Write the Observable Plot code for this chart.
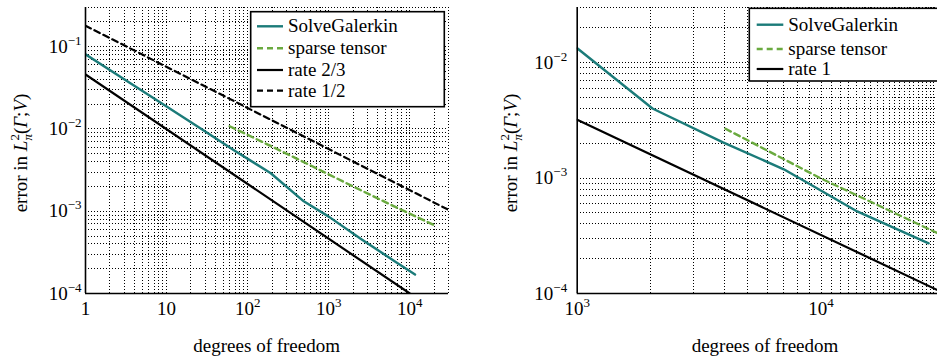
<!DOCTYPE html>
<html>
<head>
<meta charset="utf-8">
<script src="https://cdn.jsdelivr.net/npm/d3@7"></script>
<script src="https://cdn.jsdelivr.net/npm/@observablehq/plot@0.6"></script>
<style>
  html, body { margin: 0; padding: 0; background: #fff; }
  #fig { position: relative; width: 937px; height: 360px; overflow: hidden; display: flex; background: #fff; }
  #fig svg text { white-space: pre; font-family: 'Liberation Serif', 'Times New Roman', serif; }
</style>
</head>
<body>
<div id="fig"></div>
<script>
// ---------- data ----------
// Left panel
const A_xDomain = [1, 30000];
const A_yDomain = [1e-4, 0.3];
const A_xTicks = [1, 10, 100, 1000, 10000];
const A_xTickLabels = ["1", "10", "10^2", "10^3", "10^4"];
const A_yTicks = [1e-4, 1e-3, 1e-2, 1e-1];
const A_yTickLabels = ["10^−4", "10^−3", "10^−2", "10^−1"];

const A_galerkin_dof = [1, 3, 10, 30, 70, 193, 492, 1000, 2500, 6700, 11600];
const A_galerkin_err = [0.081, 0.0403, 0.0188, 0.0093, 0.0054, 0.0029, 0.00132, 0.00086, 0.00046, 0.000242, 0.00017];
const A_sparse_dof = [60, 200, 600, 2000, 7000, 21200];
const A_sparse_err = [0.0108, 0.0061, 0.0036, 0.0020, 0.0011, 0.00066];
const A_rate23_dof = [1, 10000];
const A_rate23_err = [0.046, 0.0001];
const A_rate12_dof = [1, 30000];
const A_rate12_err = [0.18, 0.00104];

// Right panel
const B_xDomain = [1000, 30000];
const B_yDomain = [1e-4, 0.03];
const B_xTicks = [1000, 10000];
const B_xTickLabels = ["10^3", "10^4"];
const B_yTicks = [1e-4, 1e-3, 1e-2];
const B_yTickLabels = ["10^−4", "10^−3", "10^−2"];

const B_galerkin_dof = [1000, 2035, 3960, 7030, 9040, 14060, 27600];
const B_galerkin_err = [0.0133, 0.0040, 0.00204, 0.00119, 0.00088, 0.000514, 0.000272];
const B_sparse_dof = [4055, 10000, 30000];
const B_sparse_err = [0.00267, 0.00099, 0.000333];
const B_rate1_dof = [1000, 30000];
const B_rate1_err = [0.0032, 0.000107];

const legendA = ["SolveGalerkin", "sparse tensor", "rate 2/3", "rate 1/2"];
const legendB = ["SolveGalerkin", "sparse tensor", "rate 1"];

// ---------- styles ----------
const TEAL = "#1b7b79";
const GREEN = "#6aaa3f";
const BLACK = "#000";
const styleGalerkin = {stroke: TEAL, strokeWidth: 2.4, dash: null};
const styleSparse = {stroke: GREEN, strokeWidth: 2.4, dash: "6,4"};
const styleSolid = {stroke: BLACK, strokeWidth: 2.2, dash: null};
const styleDashed = {stroke: BLACK, strokeWidth: 2.2, dash: "6,4"};

const FONT = "Liberation Serif, Times New Roman, serif";

function rows(dof, err) { return dof.map((d, i) => ({dof: d, err: err[i]})); }
function fmtFrom(ticks, labels) { return d => { const i = ticks.findIndex(t => Math.abs(t - d) / t < 1e-9); return i >= 0 ? labels[i] : ""; }; }
function lineMark(data, s) {
  return Plot.line(data, {x: "dof", y: "err", stroke: s.stroke, strokeWidth: s.strokeWidth,
    strokeDasharray: s.dash || undefined, strokeLinejoin: "round", clip: true});
}

function makePanel(cfg) {
  const gx = d3.scaleLog().domain(cfg.xDomain).ticks(30);
  const gy = d3.scaleLog().domain(cfg.yDomain).ticks(30);
  const grid = {stroke: "#000", strokeWidth: 1, strokeDasharray: "1,2", shapeRendering: "crispEdges"};
  const svg = Plot.plot({
    width: cfg.width, height: 360,
    marginLeft: cfg.ml, marginRight: cfg.mr, marginTop: 7, marginBottom: 67,
    style: {fontFamily: FONT, fontSize: "19px", background: "white", color: "black", overflow: "hidden"},
    x: {type: "log", domain: cfg.xDomain, ticks: cfg.xTicks, tickFormat: fmtFrom(cfg.xTicks, cfg.xLabels),
        tickSize: 0, tickPadding: 8, label: null},
    y: {type: "log", domain: cfg.yDomain, ticks: cfg.yTicks, tickFormat: fmtFrom(cfg.yTicks, cfg.yLabels),
        tickSize: 0, tickPadding: cfg.ypad, label: null},
    marks: [
      Plot.ruleX(gx, grid),
      Plot.ruleY(gy, grid),
      ...cfg.series.map(s => lineMark(rows(s.dof, s.err), s.style)),
      Plot.ruleX([cfg.xDomain[0]], {stroke: "#000", strokeWidth: 1.6}),
      Plot.ruleY([cfg.yDomain[0]], {stroke: "#000", strokeWidth: 1.6})
    ]
  });
  // superscripts on tick labels
  d3.select(svg).selectAll("text").each(function() {
    const t = this.textContent;
    const m = /^10\^(.+)$/.exec(t);
    if (m) {
      this.textContent = "10";
      d3.select(this).append("tspan").attr("dy", "-8").attr("font-size", "13px").text(m[1]);
    }
  });
  const S = d3.select(svg);
  // x label
  S.append("text").attr("x", cfg.xlabX).attr("y", 352).attr("text-anchor", "middle")
    .attr("font-size", "19px").attr("fill", "#000").text("degrees of freedom");
  // y label
  const yl = S.append("text").attr("transform", `translate(${cfg.ylabX},153) rotate(-90)`)
    .attr("text-anchor", "middle").attr("font-size", "19px").attr("fill", "#000");
  yl.append("tspan").text("error in ");
  yl.append("tspan").attr("font-style", "italic").text("L");
  yl.append("tspan").attr("font-size", "13px").attr("dy", "-8").text("2");
  yl.append("tspan").attr("font-size", "13px").attr("dx", "-6.5").attr("dy", "13").attr("font-style", "italic").text("π");
  yl.append("tspan").attr("dy", "-5").text("(");
  yl.append("tspan").attr("font-style", "italic").text("Γ");
  yl.append("tspan").text(";");
  yl.append("tspan").attr("font-style", "italic").text("V");
  yl.append("tspan").text(")");
  // legend
  const L = cfg.legend;
  S.append("rect").attr("x", L.x).attr("y", L.y).attr("width", L.w).attr("height", L.h)
    .attr("fill", "#fff").attr("stroke", "#000").attr("stroke-width", 1.6);
  cfg.series.forEach((s, i) => {
    const b = L.baselines[i];
    S.append("line").attr("x1", L.sx0).attr("x2", L.sx1).attr("y1", b - 6).attr("y2", b - 6)
      .attr("stroke", s.style.stroke).attr("stroke-width", s.style.strokeWidth)
      .attr("stroke-dasharray", s.style.dash || null);
    S.append("text").attr("x", L.tx).attr("y", b).attr("text-anchor", "start").attr("font-size", "19px")
      .attr("fill", "#000").text(cfg.names[i]);
  });
  return svg;
}

const fig = document.getElementById("fig");
fig.appendChild(makePanel({
  width: 470, ml: 85, mr: 22, ypad: 4,
  xDomain: A_xDomain, yDomain: A_yDomain, xTicks: A_xTicks, xLabels: A_xTickLabels,
  yTicks: A_yTicks, yLabels: A_yTickLabels,
  series: [
    {dof: A_galerkin_dof, err: A_galerkin_err, style: styleGalerkin},
    {dof: A_sparse_dof, err: A_sparse_err, style: styleSparse},
    {dof: A_rate23_dof, err: A_rate23_err, style: styleSolid},
    {dof: A_rate12_dof, err: A_rate12_err, style: styleDashed}
  ],
  names: legendA,
  xlabX: 266.7, ylabX: 27,
  legend: {x: 250.7, y: 11.7, w: 193.6, h: 95, sx0: 257, sx1: 283, tx: 288, baselines: [32.3, 54.3, 76, 96.7]}
}));
fig.appendChild(makePanel({
  width: 467, ml: 106.7, mr: 0, ypad: 10,
  xDomain: B_xDomain, yDomain: B_yDomain, xTicks: B_xTicks, xLabels: B_xTickLabels,
  yTicks: B_yTicks, yLabels: B_yTickLabels,
  series: [
    {dof: B_galerkin_dof, err: B_galerkin_err, style: styleGalerkin},
    {dof: B_sparse_dof, err: B_sparse_err, style: styleSparse},
    {dof: B_rate1_dof, err: B_rate1_err, style: styleSolid}
  ],
  names: legendB,
  xlabX: 295, ylabX: 47,
  legend: {x: 279.3, y: 8.3, w: 220, h: 72.7, sx0: 286.7, sx1: 313.3, tx: 318.3, baselines: [30.7, 55, 75]}
}));
</script>
</body>
</html>
